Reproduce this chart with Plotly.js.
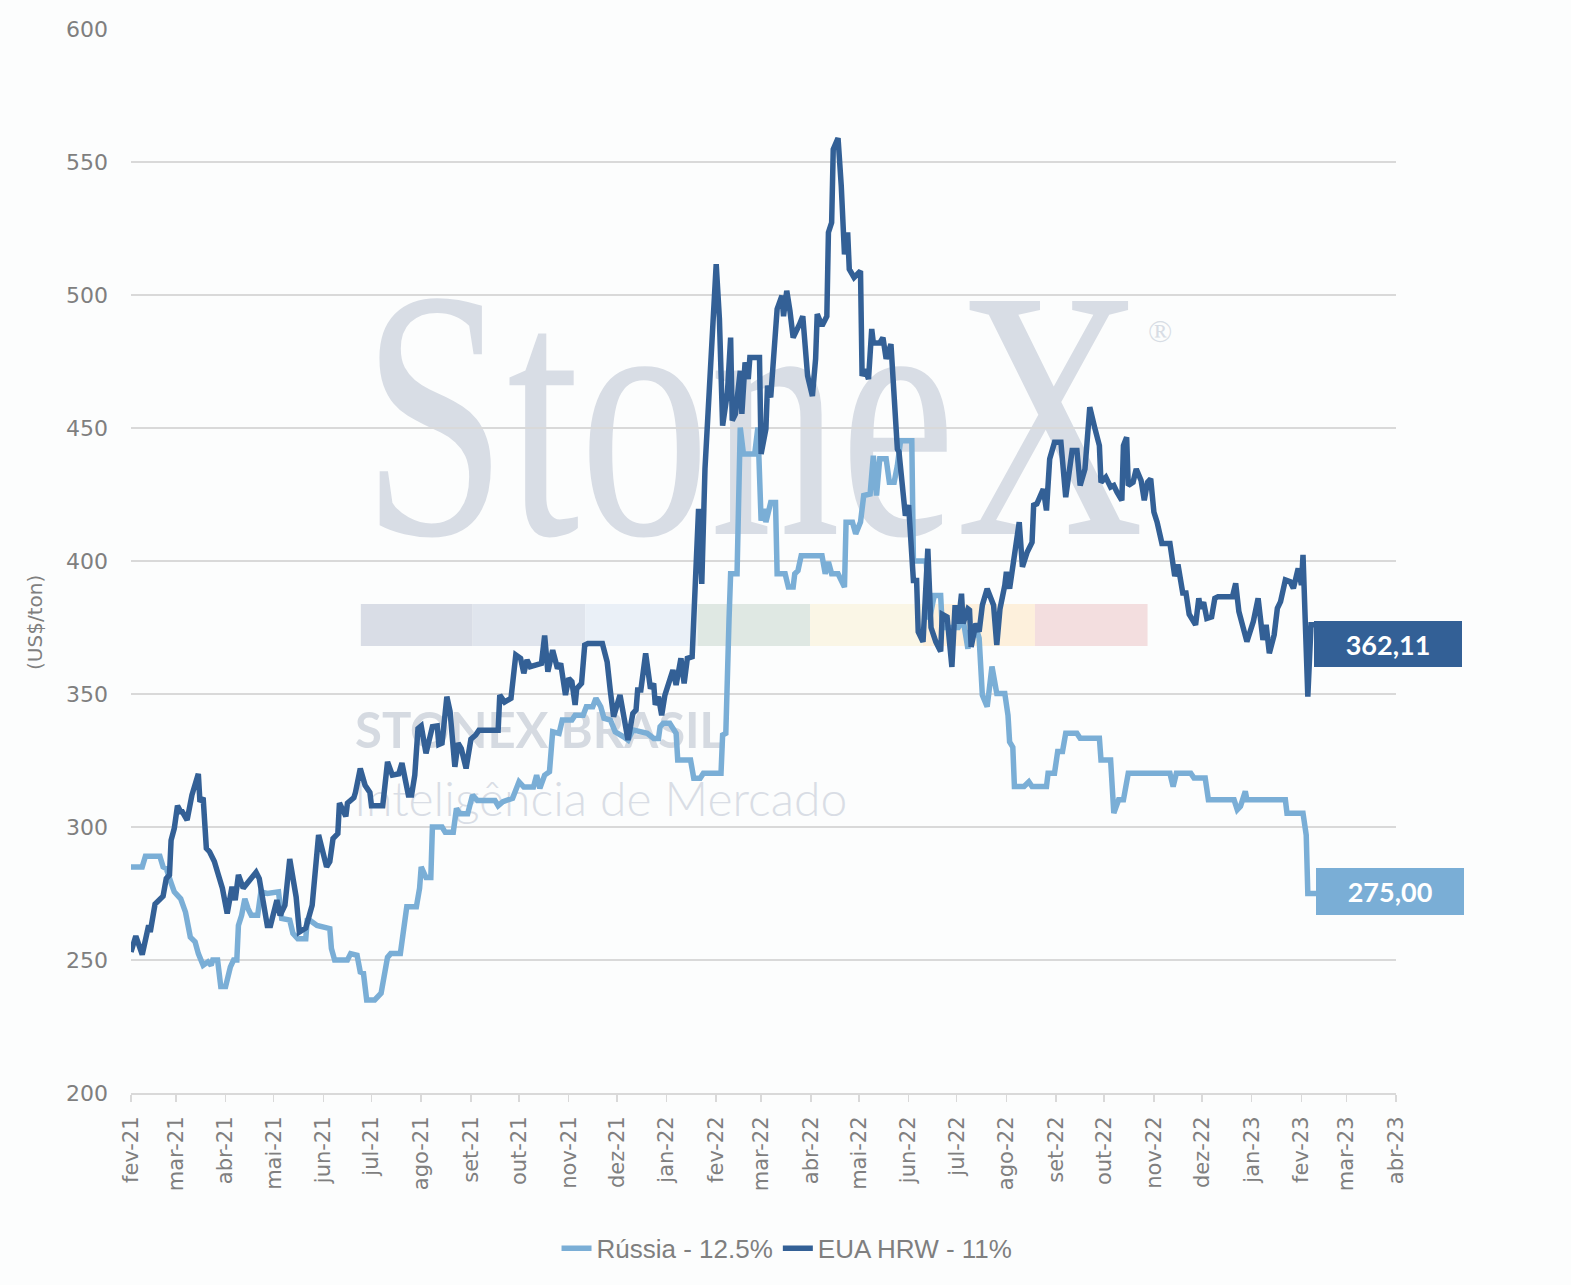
<!DOCTYPE html>
<html>
<head>
<meta charset="utf-8">
<script src="https://cdn.plot.ly/plotly-3.0.1.min.js"></script>
<style>
  html, body { margin: 0; padding: 0; background: #fcfdfd; }
  #chart { width: 1571px; height: 1285px; }
</style>
</head>
<body>
<div id="chart"></div>
<script>
// EUA HRW - 11% (US$/ton)
const hrwDates = [
  '2021-02-01','2021-02-04','2021-02-08','2021-02-12','2021-02-13','2021-02-16','2021-02-21','2021-02-23','2021-02-25','2021-02-26','2021-02-28',
  '2021-03-02','2021-03-04','2021-03-05','2021-03-08','2021-03-11','2021-03-15','2021-03-16','2021-03-18','2021-03-20','2021-03-22','2021-03-25','2021-03-27','2021-03-30',
  '2021-04-02','2021-04-05','2021-04-07','2021-04-09','2021-04-12','2021-04-15','2021-04-20','2021-04-22','2021-04-24','2021-04-27','2021-04-29',
  '2021-05-01','2021-05-03','2021-05-05','2021-05-08','2021-05-11','2021-05-13','2021-05-15','2021-05-17','2021-05-21','2021-05-25','2021-05-29',
  '2021-06-03','2021-06-05','2021-06-07','2021-06-10','2021-06-11','2021-06-15','2021-06-16','2021-06-20','2021-06-21','2021-06-24','2021-06-27','2021-06-30',
  '2021-07-01','2021-07-04','2021-07-08','2021-07-11','2021-07-14','2021-07-18','2021-07-20','2021-07-24','2021-07-26','2021-07-28','2021-07-30',
  '2021-08-01','2021-08-04','2021-08-08','2021-08-11','2021-08-12','2021-08-14','2021-08-17','2021-08-19','2021-08-22','2021-08-24','2021-08-26','2021-08-29',
  '2021-09-01','2021-09-04','2021-09-06','2021-09-18','2021-09-19','2021-09-22','2021-09-26','2021-09-29',
  '2021-10-02','2021-10-04','2021-10-06','2021-10-08','2021-10-15','2021-10-17','2021-10-19','2021-10-22','2021-10-25','2021-10-27','2021-10-30',
  '2021-11-01','2021-11-03','2021-11-05','2021-11-06','2021-11-09','2021-11-11','2021-11-13','2021-11-22','2021-11-25','2021-11-27','2021-11-29',
  '2021-12-03','2021-12-06','2021-12-08','2021-12-11','2021-12-13','2021-12-14','2021-12-16','2021-12-19','2021-12-21','2021-12-22','2021-12-24','2021-12-25','2021-12-27','2021-12-29','2021-12-31',
  '2022-01-02','2022-01-05','2022-01-07','2022-01-10','2022-01-12','2022-01-14','2022-01-17','2022-01-18','2022-01-19','2022-01-21','2022-01-23','2022-01-25','2022-01-28',
  '2022-02-01','2022-02-03','2022-02-05','2022-02-08','2022-02-10','2022-02-11','2022-02-13','2022-02-16','2022-02-17','2022-02-19','2022-02-21','2022-02-22','2022-02-28',
  '2022-03-01','2022-03-04','2022-03-05','2022-03-07','2022-03-11','2022-03-14','2022-03-15','2022-03-17','2022-03-19','2022-03-21','2022-03-25','2022-03-27','2022-03-30',
  '2022-04-02','2022-04-04','2022-04-05','2022-04-08','2022-04-11','2022-04-12','2022-04-14','2022-04-15','2022-04-18','2022-04-20','2022-04-22','2022-04-24','2022-04-25','2022-04-28',
  '2022-05-02','2022-05-03','2022-05-05','2022-05-07','2022-05-09','2022-05-10','2022-05-14','2022-05-16','2022-05-18','2022-05-21','2022-05-23','2022-05-25','2022-05-26','2022-05-28','2022-05-30',
  '2022-06-01','2022-06-04','2022-06-06','2022-06-07','2022-06-10','2022-06-13','2022-06-15','2022-06-18','2022-06-21','2022-06-22','2022-06-25','2022-06-28','2022-06-30',
  '2022-07-02','2022-07-04','2022-07-05','2022-07-08','2022-07-09','2022-07-10','2022-07-13','2022-07-15','2022-07-17','2022-07-20','2022-07-22','2022-07-24','2022-07-26','2022-07-28','2022-07-31',
  '2022-08-01','2022-08-03','2022-08-05','2022-08-07','2022-08-09','2022-08-11','2022-08-14','2022-08-17','2022-08-18','2022-08-20','2022-08-24','2022-08-26','2022-08-28','2022-08-31',
  '2022-09-04','2022-09-07','2022-09-09','2022-09-11','2022-09-14','2022-09-16','2022-09-19','2022-09-22','2022-09-25','2022-09-28','2022-09-29',
  '2022-10-02','2022-10-05','2022-10-07','2022-10-09','2022-10-12','2022-10-13','2022-10-15','2022-10-16','2022-10-19','2022-10-21','2022-10-24','2022-10-26','2022-10-28','2022-10-30',
  '2022-11-01','2022-11-03','2022-11-06','2022-11-11','2022-11-14','2022-11-16','2022-11-19','2022-11-21','2022-11-23','2022-11-27','2022-11-29','2022-11-30',
  '2022-12-02','2022-12-04','2022-12-07','2022-12-09','2022-12-11','2022-12-20','2022-12-22','2022-12-24','2022-12-26','2022-12-29',
  '2023-01-02','2023-01-05','2023-01-08','2023-01-10','2023-01-12','2023-01-15','2023-01-17','2023-01-19','2023-01-22','2023-01-25','2023-01-27','2023-01-30',
  '2023-02-01','2023-02-02','2023-02-05','2023-02-07','2023-02-10'
];
const hrwValues = [
  253,259,252,263,260.5,271,274,280.6,282,295,299.5,
  308,305.7,305.7,302.6,312,320,309.5,311,292,290.7,287,283,277,
  267.5,277.5,272.5,282,277,279.4,283,280.6,273,263,263,
  268,272.5,266.8,270.6,288,279,273.7,260.5,262,270.6,297,
  285,287,295.7,297.5,309,304,309,311,313,322,315.7,313,
  308,308,308,324.5,319.5,320,324,312,312,319.5,337,
  338,327.7,337.7,338,331,331.5,349,343.5,322.6,331.5,329.5,322,
  333,334.6,336.4,336.4,349.6,347,348.4,364.7,
  363.4,357.8,362.8,360.3,361.5,372,358.4,366.5,359.6,361.5,349.6,
  355.9,354.6,345.9,352,354,368.4,369,369,362,351,341.5,
  349.6,340.9,332.7,342.7,344,351.5,351.5,365.3,355.9,352,354,345.9,349,342,349.6,
  353.4,359,353.4,363.4,354,363.4,364,383.5,392,419.6,391.4,434.6,472,
  511.6,491,450.9,463.4,484,452.8,455.3,471.5,455.3,474.7,468.4,476.5,476.5,
  440.2,449.6,465.9,461.5,494.7,499.7,492,501.6,494,484,489,492,469.6,
  462,476,492.8,488.4,492,523.5,527.2,554.8,559,541,515.3,523.5,509.7,506.6,
  509,469.6,472,468.4,487.2,482,482,484,476,481.5,459.6,442,441,427,417,
  421,392.7,392.7,373.4,369.6,404.6,375,369.6,366,380,379,360.2,383.4,
  376.5,387.7,376.5,382,381.5,367.7,376.5,373.4,383.4,389.6,387,383.4,368.4,382,390.9,
  395.9,389.6,399,408.4,414.6,397.8,403.4,407,421,421.5,427,419,438.4,444.6,
  444.6,424,433.4,441.5,441.5,428.4,434.6,457.8,450.3,443.4,429.6,
  431.5,427.8,428.4,425.9,422.8,443.4,446.5,428.4,429.6,434.6,430.3,422.8,429.6,430.9,
  418.4,414.6,406.6,406.6,394.3,398.7,388,388,380,376,386,382.2,
  384.5,378.4,379,386,386.6,386.6,391.6,381,376.6,369.7,
  377.2,386,370.3,376,365.3,372.2,382.2,384.7,392.9,392.2,389.7,397.2,
  391,402.3,349,376,376
];

// Rússia - 12.5% (US$/ton)
const russiaDates = [
  '2021-02-01','2021-02-08','2021-02-10','2021-02-19','2021-02-21','2021-02-23','2021-02-26','2021-02-28',
  '2021-03-04','2021-03-07','2021-03-10','2021-03-13','2021-03-15','2021-03-18','2021-03-21','2021-03-23','2021-03-24','2021-03-27','2021-03-29',
  '2021-04-01','2021-04-04','2021-04-06','2021-04-08','2021-04-09','2021-04-11','2021-04-13','2021-04-15','2021-04-17','2021-04-21','2021-04-23','2021-04-27',
  '2021-05-04','2021-05-06','2021-05-11','2021-05-13','2021-05-16','2021-05-21','2021-05-22','2021-05-28',
  '2021-06-01','2021-06-05','2021-06-06','2021-06-08','2021-06-16','2021-06-18','2021-06-22','2021-06-24','2021-06-26','2021-06-28',
  '2021-07-03','2021-07-07','2021-07-11','2021-07-13','2021-07-19','2021-07-21','2021-07-23','2021-07-29','2021-07-31',
  '2021-08-01','2021-08-04','2021-08-07','2021-08-08','2021-08-14','2021-08-16','2021-08-21','2021-08-23','2021-08-25','2021-08-30',
  '2021-09-02','2021-09-05','2021-09-16','2021-09-18','2021-09-21','2021-09-27',
  '2021-10-01','2021-10-04','2021-10-10','2021-10-12','2021-10-14','2021-10-17','2021-10-20','2021-10-22','2021-10-26','2021-10-28',
  '2021-11-03','2021-11-05','2021-11-10','2021-11-12','2021-11-16','2021-11-18','2021-11-21','2021-11-23','2021-11-27','2021-11-30',
  '2021-12-05','2021-12-08','2021-12-11','2021-12-20','2021-12-24','2021-12-27','2021-12-28','2021-12-30',
  '2022-01-03','2022-01-07','2022-01-08','2022-01-16','2022-01-18','2022-01-22','2022-01-24',
  '2022-02-04','2022-02-05','2022-02-07','2022-02-09','2022-02-10','2022-02-14','2022-02-16','2022-02-18','2022-02-25','2022-02-27','2022-02-28',
  '2022-03-01','2022-03-03','2022-03-04','2022-03-07','2022-03-10','2022-03-11','2022-03-16','2022-03-18','2022-03-21','2022-03-22','2022-03-24','2022-03-26',
  '2022-04-08','2022-04-10','2022-04-12','2022-04-14','2022-04-18','2022-04-22','2022-04-23','2022-04-27','2022-04-29',
  '2022-05-02','2022-05-04','2022-05-08','2022-05-10','2022-05-12','2022-05-14','2022-05-18','2022-05-20','2022-05-23','2022-05-25','2022-05-27',
  '2022-06-03','2022-06-04','2022-06-12','2022-06-14','2022-06-17','2022-06-21','2022-06-22',
  '2022-07-02','2022-07-05','2022-07-08','2022-07-09','2022-07-14','2022-07-15','2022-07-17','2022-07-20','2022-07-23','2022-07-25','2022-07-26','2022-07-31',
  '2022-08-02','2022-08-03','2022-08-05','2022-08-06','2022-08-12','2022-08-15','2022-08-17','2022-08-26','2022-08-27','2022-08-31',
  '2022-09-02','2022-09-05','2022-09-07','2022-09-14','2022-09-16','2022-09-28','2022-09-29',
  '2022-10-05','2022-10-07','2022-10-10','2022-10-13','2022-10-16',
  '2022-11-11','2022-11-13','2022-11-15','2022-11-24','2022-11-26',
  '2022-12-03','2022-12-05','2022-12-21','2022-12-23','2022-12-25','2022-12-28','2022-12-29',
  '2023-01-22','2023-01-23',
  '2023-02-02','2023-02-04','2023-02-05','2023-02-11'
];
const russiaValues = [
  285,285,289,289,285,284.4,279,275.6,
  273,268,258.6,256.8,252.4,248,249.3,248,250,250,240,
  240,247.4,250,250,263,266.8,273,269.3,266.8,266.8,275.6,275,
  275.6,265.6,265,260,258,258,265.6,263,
  262.4,261.8,254.3,250,250,252.4,251.8,245.5,245,235,
  235,237.5,251,252.4,252.4,261,270,270,277,
  285,281,281,300,300,298,298,307,305,305,
  312,310,310,308,309.5,310.8,
  317,315,315,319.5,314.5,319.5,320.8,335.8,335.2,340.2,
  340.2,342,342,345.2,345.2,348.4,345.2,340.9,340.2,335.8,
  334,332.7,336.5,335.2,333.3,333.3,337.7,339,
  339,335.2,325.2,325.2,318.3,318.3,320.2,
  320.2,334.6,335.2,378,395.2,395.2,450.2,440.2,440.2,450.2,425.8,
  415.2,419.6,414.6,422,422,395.2,395.2,390.2,390.2,395.2,396.4,402,
  402,395.2,399.6,395.2,395.2,390.2,414.6,414.6,410.2,
  414.6,424.6,425.2,439.6,424.6,438.4,438.4,429.6,429.6,435.9,445.2,
  445.2,400,400,378,387,387,375,
  375,378,367,373,373,371,349.6,345.2,360.3,354.6,350.2,350.2,
  342,332,330,315.2,315.2,317,315.2,315.2,320.2,320.2,
  328.4,328.4,335.2,335.2,333.4,333.4,325.2,
  325.2,305.2,310.2,310.2,320.2,
  320.2,315.2,320.2,320.2,318.4,
  318.4,310.2,310.2,306.5,307.8,313.4,310.2,
  310.2,305.2,
  305.2,297,275,275
];

// Axis ticks
const monthTicks = [
  '2021-02-01','2021-03-01','2021-04-01','2021-05-01','2021-06-01','2021-07-01','2021-08-01','2021-09-01','2021-10-01','2021-11-01','2021-12-01',
  '2022-01-01','2022-02-01','2022-03-01','2022-04-01','2022-05-01','2022-06-01','2022-07-01','2022-08-01','2022-09-01','2022-10-01','2022-11-01','2022-12-01',
  '2023-01-01','2023-02-01','2023-03-01','2023-04-01'
];
const monthLabels = [
  'fev-21','mar-21','abr-21','mai-21','jun-21','jul-21','ago-21','set-21','out-21','nov-21','dez-21',
  'jan-22','fev-22','mar-22','abr-22','mai-22','jun-22','jul-22','ago-22','set-22','out-22','nov-22','dez-22',
  'jan-23','fev-23','mar-23','abr-23'
];

// Last-value labels
const hrwLastLabel = '362,11';
const russiaLastLabel = '275,00';

const darkBlue = '#336096';
const lightBlue = '#7aaed6';
const grey = '#7f7f7f';

// watermark colour bar
const barEdges = [0.1817, 0.2701, 0.3591, 0.4479, 0.5368, 0.6257, 0.7146, 0.8036];
const barColors = ['#d9dde6', '#e0e5ed', '#eaf0f7', '#dfe8e3', '#faf6e6', '#fdf0dc', '#f3dedf'];

const shapes = barColors.map((c, i) => ({
  type: 'rect', xref: 'paper', yref: 'paper', layer: 'below',
  x0: barEdges[i], x1: barEdges[i + 1], y0: 0.4201, y1: 0.4596,
  fillcolor: c, line: { width: 0 }
}));

const wmColor = '#d8dde5';
const watermark = [
  { text: 'StoneX', x: 0.4917, y: 0.638, font: { family: 'Liberation Serif', size: 356, color: wmColor } },
  { text: '®', x: 0.8134, y: 0.716, font: { family: 'Liberation Serif', size: 32, color: wmColor } },
  { text: 'STONEX BRASIL', x: 0.3233, y: 0.342, font: { family: 'Lato', size: 49, color: '#d5dae1', weight: 'bold' } },
  { text: 'Inteligência de Mercado', x: 0.3715, y: 0.2773, font: { family: 'Lato', size: 48, color: '#d9dde5', weight: 300 } }
].map(a => Object.assign({ xref: 'paper', yref: 'paper', xanchor: 'center', yanchor: 'middle', showarrow: false }, a));

const annotations = watermark.concat([
  {
    text: '(US$/ton)', xref: 'paper', yref: 'paper', x: -0.0759, y: 0.4427,
    xanchor: 'center', yanchor: 'middle', textangle: -90, showarrow: false,
    font: { family: 'DejaVu Sans', size: 20, color: grey }
  },
  {
    text: hrwLastLabel, xref: 'paper', yref: 'paper', x: 0.935, y: 0.422,
    xanchor: 'left', yanchor: 'middle', showarrow: false,
    width: 148, height: 46, borderpad: 0, borderwidth: 0, bgcolor: darkBlue,
    font: { family: 'Lato', size: 27, color: '#ffffff', weight: 'bold' }
  },
  {
    text: russiaLastLabel, xref: 'paper', yref: 'paper', x: 0.9368, y: 0.1894,
    xanchor: 'left', yanchor: 'middle', showarrow: false,
    width: 148, height: 47, borderpad: 0, borderwidth: 0, bgcolor: lightBlue,
    font: { family: 'Lato', size: 27, color: '#ffffff', weight: 'bold' }
  }
]);

const traces = [
  {
    x: russiaDates, y: russiaValues, name: 'Rússia - 12.5%',
    type: 'scatter', mode: 'lines', line: { color: lightBlue, width: 5.5 }
  },
  {
    x: hrwDates, y: hrwValues, name: 'EUA HRW - 11%',
    type: 'scatter', mode: 'lines', line: { color: darkBlue, width: 5.5 }
  }
];

const layout = {
  width: 1571, height: 1285,
  paper_bgcolor: '#fcfdfd', plot_bgcolor: 'rgba(0,0,0,0)',
  margin: { l: 131, r: 175, t: 29, b: 192 },
  font: { family: 'DejaVu Sans', color: grey },
  xaxis: {
    type: 'date', range: ['2021-02-01', '2023-04-01'],
    tickmode: 'array', tickvals: monthTicks, ticktext: monthLabels,
    tickangle: -90, ticks: 'outside', ticklen: 7, tickwidth: 1.5, tickcolor: '#d9d9d9',
    ticklabelstandoff: 6,
    showgrid: false, zeroline: false,
    showline: true, linecolor: '#d9d9d9', linewidth: 2,
    tickfont: { family: 'DejaVu Sans', size: 21, color: grey }
  },
  yaxis: {
    range: [200, 600], tick0: 200, dtick: 50,
    gridcolor: '#d9d9d9', gridwidth: 1.5, zeroline: false, showline: false,
    ticklabelstandoff: 22,
    tickfont: { family: 'DejaVu Sans', size: 22, color: grey }
  },
  showlegend: true,
  legend: {
    orientation: 'h', x: 0.5186, xanchor: 'center', y: -0.146, yanchor: 'middle',
    font: { family: 'Liberation Sans', size: 26, color: grey },
    bgcolor: 'rgba(0,0,0,0)'
  },
  shapes: shapes,
  annotations: annotations
};

Plotly.newPlot('chart', traces, layout, { displayModeBar: false, staticPlot: true }).then(gd => {
  // put the watermark texts behind gridlines and lines
  const below = gd.querySelector('.layer-below');
  gd.querySelectorAll('.infolayer .annotation').forEach(a => {
    if (+a.getAttribute('data-index') < watermark.length) below.appendChild(a);
  });
  // condensed logo
  const logo = below.querySelector('.annotation[data-index="0"] text');
  const bb = logo.getBBox();
  const cx = bb.x + bb.width / 2;
  const k = 782 / bb.width;
  logo.setAttribute('transform', `translate(${cx},0) scale(${k},1) translate(${-cx},0)`);
});
</script>
</body>
</html>
